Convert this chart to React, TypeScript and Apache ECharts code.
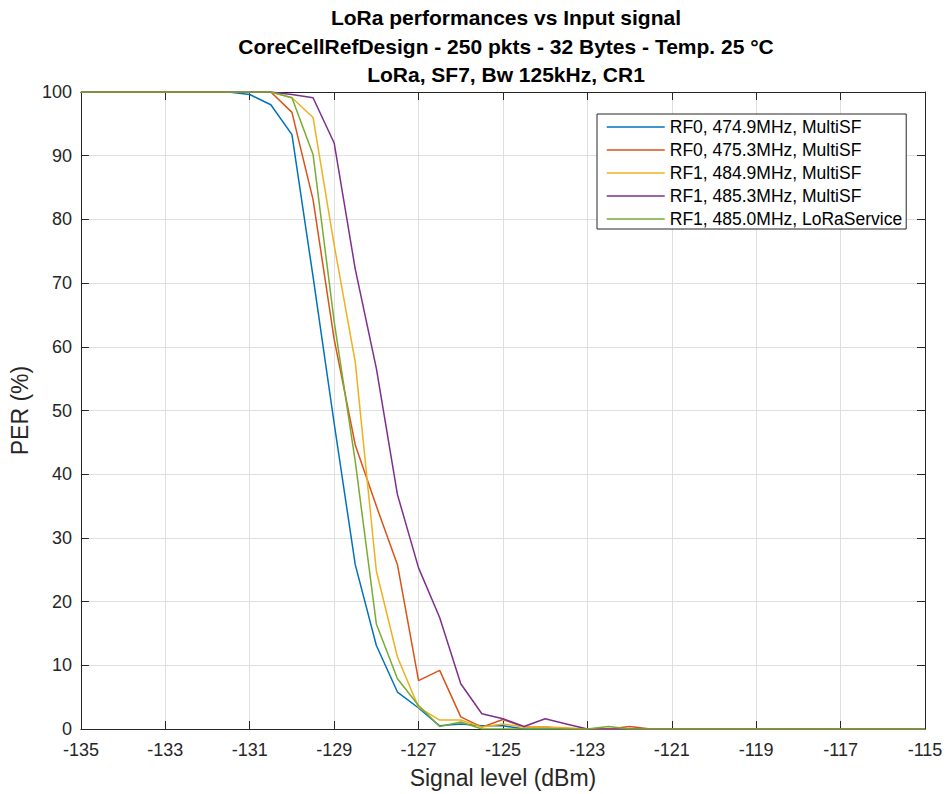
import React, { useEffect, useRef } from "react";
import * as echarts from "echarts";

const xs = [
  -135, -134.5, -134, -133.5, -133, -132.5, -132, -131.5, -131, -130.5,
  -130, -129.5, -129, -128.5, -128, -127.5, -127, -126.5, -126, -125.5,
  -125, -124.5, -124, -123.5, -123, -122.5, -122, -121.5, -121, -120.5,
  -120, -119.5, -119, -118.5, -118, -117.5, -117, -116.5, -116, -115.5, -115,
];

const rf0_4749 = [
  100, 100, 100, 100, 100, 100, 100, 100, 99.6, 98.0,
  93.3, 71, 48, 25.8, 13.1, 5.8, 3.3, 0.5, 0.8, 0.5,
  0.5, 0, 0, 0, 0, 0, 0, 0, 0, 0,
  0, 0, 0, 0, 0, 0, 0, 0, 0, 0, 0,
];
const rf0_4753 = [
  100, 100, 100, 100, 100, 100, 100, 100, 100, 100,
  96.8, 83.1, 61.2, 44.6, 35, 25.8, 7.6, 9.2, 1.9, 0.3,
  1.5, 0.3, 0.3, 0, 0, 0, 0.4, 0, 0, 0,
  0, 0, 0, 0, 0, 0, 0, 0, 0, 0, 0,
];
const rf1_4849 = [
  100, 100, 100, 100, 100, 100, 100, 100, 100, 100,
  99.1, 96.0, 76, 57.6, 24.8, 11.3, 3.4, 1.4, 1.4, 0.3,
  0.8, 0.3, 0.3, 0.2, 0, 0, 0, 0, 0, 0,
  0, 0, 0, 0, 0, 0, 0, 0, 0, 0, 0,
];
const rf1_4853 = [
  100, 100, 100, 100, 100, 100, 100, 100, 100, 100,
  99.6, 99.1, 92.0, 72.2, 56.6, 36.8, 25.3, 17.5, 7.1, 2.4,
  1.6, 0.4, 1.6, 0.8, 0, 0, 0, 0, 0, 0,
  0, 0, 0, 0, 0, 0, 0, 0, 0, 0, 0,
];
const rf1_4850 = [
  100, 100, 100, 100, 100, 100, 100, 100, 100, 100,
  99.1, 90.2, 64, 42, 16.5, 7.9, 3.7, 0.4, 1.1, 0,
  0, 0, 0, 0, 0, 0.4, 0, 0, 0, 0,
  0, 0, 0, 0, 0, 0, 0, 0, 0, 0, 0,
];

const seriesNames = [
  "RF0, 474.9MHz, MultiSF",
  "RF0, 475.3MHz, MultiSF",
  "RF1, 484.9MHz, MultiSF",
  "RF1, 485.3MHz, MultiSF",
  "RF1, 485.0MHz, LoRaService",
];
const seriesValues = [rf0_4749, rf0_4753, rf1_4849, rf1_4853, rf1_4850];
const colors = ["#0072BD", "#D95319", "#EDB120", "#7E2F8E", "#77AC30"];

const titleLines = [
  "LoRa performances vs Input signal",
  "CoreCellRefDesign - 250 pkts - 32 Bytes - Temp. 25 °C",
  "LoRa, SF7, Bw 125kHz, CR1",
];

const FONT = "'Liberation Sans', Arial, Helvetica, sans-serif";
const AXIS_COLOR = "#262626";

export default function App() {
  const ref = useRef<HTMLDivElement>(null);
  useEffect(() => {
    document.body.style.margin = "0";
    if (!ref.current) return;
    const chart = echarts.init(ref.current, null, { renderer: "svg" });
    const axisCommon = {
      min: -135,
      max: -115,
      interval: 2,
    };
    chart.setOption({
      animation: false,
      backgroundColor: "#ffffff",
      textStyle: { fontFamily: FONT },
      title: titleLines.map((t, i) => ({
        text: t,
        left: 501,
        top: 2 + i * 28.5,
        textAlign: "center",
        textStyle: {
          fontFamily: FONT,
          fontSize: 21,
          fontWeight: "bold",
          color: "#000000",
        },
      })),
      grid: { left: 78, right: 21, top: 92, bottom: 62, containLabel: false },
      legend: {
        orient: "vertical",
        left: 597,
        top: 114,
        padding: [4, 4, 1, 9],
        borderColor: AXIS_COLOR,
        borderWidth: 1,
        backgroundColor: "#ffffff",
        itemWidth: 58,
        itemHeight: 14,
        itemGap: 5,
        itemStyle: { opacity: 0 },
        lineStyle: { width: 1.5 },
        textStyle: { fontFamily: FONT, fontSize: 17.5, color: "#000000" },
        data: seriesNames,
      },
      xAxis: [
        {
          type: "value",
          ...axisCommon,
          name: "Signal level (dBm)",
          nameLocation: "middle",
          nameGap: 37,
          nameTextStyle: { fontFamily: FONT, fontSize: 23, color: "#262626" },
          axisLine: { onZero: false, lineStyle: { color: AXIS_COLOR, width: 1 } },
          axisTick: { show: true, inside: true, length: 8, lineStyle: { color: AXIS_COLOR } },
          axisLabel: { fontFamily: FONT, fontSize: 18, color: "#262626", margin: 12 },
          splitLine: { show: true, lineStyle: { color: "#dfdfdf", width: 1 } },
        },
        {
          type: "value",
          ...axisCommon,
          position: "top",
          axisLine: { onZero: false, lineStyle: { color: AXIS_COLOR, width: 1 } },
          axisTick: { show: true, inside: true, length: 8, lineStyle: { color: AXIS_COLOR } },
          axisLabel: { show: false },
          splitLine: { show: false },
        },
      ],
      yAxis: [
        {
          type: "value",
          min: 0,
          max: 100,
          interval: 10,
          name: "PER (%)",
          nameLocation: "middle",
          nameGap: 46,
          nameTextStyle: { fontFamily: FONT, fontSize: 23, color: "#262626" },
          axisLine: { show: true, onZero: false, lineStyle: { color: AXIS_COLOR, width: 1 } },
          axisTick: { show: true, inside: true, length: 8, lineStyle: { color: AXIS_COLOR } },
          axisLabel: { fontFamily: FONT, fontSize: 18, color: "#262626", margin: 9 },
          splitLine: { show: true, lineStyle: { color: "#dfdfdf", width: 1 } },
        },
        {
          type: "value",
          min: 0,
          max: 100,
          interval: 10,
          position: "right",
          axisLine: { show: true, onZero: false, lineStyle: { color: AXIS_COLOR, width: 1 } },
          axisTick: { show: true, inside: true, length: 8, lineStyle: { color: AXIS_COLOR } },
          axisLabel: { show: false },
          splitLine: { show: false },
        },
      ],
      series: seriesValues.map((vals, i) => ({
        name: seriesNames[i],
        type: "line",
        xAxisIndex: 0,
        yAxisIndex: 0,
        symbol: "none",
        showSymbol: false,
        color: colors[i],
        lineStyle: { color: colors[i], width: 1.5 },
        data: xs.map((x, j) => [x, vals[j]]),
        z: 3 + i,
      })),
    });
    return () => chart.dispose();
  }, []);
  return <div ref={ref} style={{ width: 946, height: 794 }} />;
}
